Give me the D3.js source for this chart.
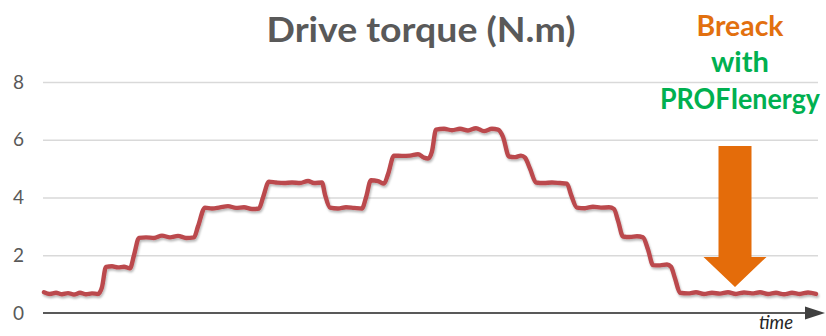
<!DOCTYPE html>
<html>
<head>
<meta charset="utf-8">
<script src="https://cdn.jsdelivr.net/npm/d3@7/dist/d3.min.js"></script>
<style>
  html, body { margin: 0; padding: 0; background: #fff; }
  svg { display: block; font-family: Lato, "Open Sans", sans-serif; }
</style>
</head>
<body>
<svg id="chart" width="826" height="336"></svg>
<script>
// Drive torque over time (N.m), sampled along the motion profile
const time = [
  0, 0.6, 1.2, 1.8, 2.4, 3.0, 3.6, 4.2, 4.8, 5.4,
  5.8, 6.2,
  6.8, 7.4, 8.0, 8.6,
  9.0, 9.5,
  10.2, 11.0, 11.8, 12.6, 13.4, 14.2, 15.0,
  15.4, 16.1,
  16.8, 17.6, 18.4, 19.2, 20.0, 20.8, 21.5,
  21.9, 22.5,
  23.2, 24.0, 24.8, 25.6, 26.4, 27.0, 27.8,
  28.1, 28.6,
  29.4, 30.2, 31.0, 31.8,
  32.2, 32.7,
  33.4, 34.0, 34.4, 35.0,
  35.8, 36.6, 37.4, 38.0, 38.4, 38.8, 39.2,
  40.0, 40.8, 41.6, 42.4, 43.2, 44.0, 44.8, 45.4,
  45.9, 46.5,
  47.1, 47.7, 48.1,
  48.6, 49.2,
  50.0, 50.8, 51.6, 52.3,
  52.7, 53.3,
  54.1, 54.9, 55.7, 56.5, 57.0,
  57.4, 57.9,
  58.6, 59.3, 59.9,
  60.4, 60.9,
  61.6, 62.3, 62.7,
  63.1, 63.6,
  64.4, 65.2, 66.0, 66.8, 67.6, 68.4, 69.2, 70.0, 70.8, 71.6, 72.4, 73.2, 74.0, 74.8, 75.6, 76.4, 77.2
];
const torque = [
  0.72, 0.66, 0.70, 0.65, 0.69, 0.64, 0.70, 0.65, 0.68, 0.66,
  0.90, 1.60,
  1.62, 1.58, 1.60, 1.55,
  2.00, 2.60,
  2.62, 2.60, 2.68, 2.62, 2.67, 2.60, 2.62,
  3.00, 3.65,
  3.62, 3.66, 3.70, 3.64, 3.66, 3.60, 3.62,
  4.00, 4.55,
  4.52, 4.50, 4.52, 4.50, 4.57, 4.50, 4.52,
  4.10, 3.65,
  3.62, 3.66, 3.64, 3.62,
  4.00, 4.60,
  4.57, 4.48, 4.80, 5.45,
  5.44, 5.45, 5.50, 5.38, 5.35, 5.60, 6.35,
  6.38, 6.33, 6.38, 6.32, 6.40, 6.30, 6.38, 6.35,
  6.10, 5.42,
  5.40, 5.45, 5.38,
  5.00, 4.52,
  4.50, 4.52, 4.50, 4.48,
  4.10, 3.65,
  3.63, 3.68, 3.65, 3.66, 3.60,
  3.20, 2.65,
  2.63, 2.66, 2.62,
  2.20, 1.66,
  1.65, 1.68, 1.60,
  1.20, 0.70,
  0.68, 0.72, 0.66, 0.70, 0.67, 0.72, 0.66, 0.71, 0.68, 0.72, 0.66, 0.70, 0.65, 0.70, 0.66, 0.71, 0.66
];
const yTicks = [0, 2, 4, 6, 8];
const titleText = "Drive torque (N.m)";
const noteLines = ["Breack", "with", "PROFIenergy"];
const axisLabel = "time";

const svg = d3.select("#chart");

const x = d3.scaleLinear().domain([0, 77.4]).range([44, 818]);
const y = d3.scaleLinear().domain([0, 8]).range([313, 82]);

// soft shadow under the torque trace
const defs = svg.append("defs");
const f = defs.append("filter").attr("id", "shadow")
  .attr("x", "-5%").attr("y", "-10%").attr("width", "110%").attr("height", "130%");
f.append("feDropShadow").attr("dx", 1).attr("dy", 2).attr("stdDeviation", 1.3)
  .attr("flood-color", "#000").attr("flood-opacity", 0.28);

// horizontal gridlines
svg.append("g")
  .attr("transform", `translate(${x.range()[0] - 1},0)`)
  .call(d3.axisLeft(y).tickValues(yTicks.filter(d => d > 0)).tickSize(-(x.range()[1] - x.range()[0] + 1)).tickFormat(""))
  .call(g => g.select(".domain").remove())
  .call(g => g.selectAll("line").attr("stroke", "#d9d9d9").attr("stroke-width", 1.5));

// y tick labels
svg.append("g")
  .attr("transform", `translate(${x.range()[0] - 1},0)`)
  .call(d3.axisLeft(y).tickValues(yTicks).tickSize(0).tickPadding(19).tickFormat(d3.format("d")))
  .call(g => g.select(".domain").remove())
  .call(g => g.selectAll("text")
    .attr("fill", "#595959")
    .style("font-size", "19px")
    .style("font-family", "Lato, 'Open Sans', sans-serif"));

// time axis with arrowhead
const x0 = x.range()[0] - 1, x1 = x.range()[1] + 7;
svg.append("line")
  .attr("x1", x0).attr("x2", x1 - 14)
  .attr("y1", y(0)).attr("y2", y(0))
  .attr("stroke", "#595959").attr("stroke-width", 2.2);
svg.append("path")
  .attr("d", `M${x1 - 20},${y(0) - 6.5} L${x1},${y(0)} L${x1 - 20},${y(0) + 6.5} Z`)
  .attr("fill", "#404040");
svg.append("text")
  .attr("x", x1 - 49).attr("y", 329)
  .attr("text-anchor", "middle")
  .attr("fill", "#262626")
  .style("font-style", "italic")
  .style("font-size", "18.5px")
  .style("font-family", "Lato, 'Open Sans', sans-serif")
  .text(axisLabel);

// torque trace
const line = d3.line()
  .x((d, i) => x(time[i]))
  .y(d => y(d))
  .curve(d3.curveMonotoneX);
svg.append("path")
  .datum(torque)
  .attr("d", line)
  .attr("fill", "none")
  .attr("stroke", "#bb4a4e")
  .attr("stroke-width", 4.4)
  .attr("stroke-linejoin", "round")
  .attr("stroke-linecap", "round")
  .attr("filter", "url(#shadow)");

// title
svg.append("text")
  .attr("x", 421).attr("y", 42)
  .attr("text-anchor", "middle")
  .attr("fill", "#595959")
  .style("font-weight", "bold")
  .style("font-size", "34px")
  .attr("textLength", 309)
  .attr("lengthAdjust", "spacingAndGlyphs")
  .text(titleText);

// annotation: braking phase with PROFIenergy
const noteX = 740;
const noteStyle = [
  { color: "#e2700f", base: 36, len: 87 },
  { color: "#00b050", base: 72, len: 58 },
  { color: "#00b050", base: 109, len: 160 }
];
svg.append("g").selectAll("text")
  .data(noteLines)
  .join("text")
  .attr("x", noteX)
  .attr("y", (d, i) => noteStyle[i].base)
  .attr("text-anchor", "middle")
  .attr("fill", (d, i) => noteStyle[i].color)
  .attr("textLength", (d, i) => noteStyle[i].len)
  .attr("lengthAdjust", "spacingAndGlyphs")
  .style("font-weight", "bold")
  .style("font-size", "28px")
  .text(d => d);

// downward arrow pointing at the reduced torque level
const ax = x(69.1);
const shaftHalf = 16.5, headHalf = 31.5;
const yTop = y(5.78), yHead = y(1.94), yTip = y(0.9);
svg.append("path")
  .attr("d", `M${ax - shaftHalf},${yTop} L${ax + shaftHalf},${yTop} L${ax + shaftHalf},${yHead}
              L${ax + headHalf},${yHead} L${ax},${yTip} L${ax - headHalf},${yHead}
              L${ax - shaftHalf},${yHead} Z`)
  .attr("fill", "#e46c0a");
</script>
</body>
</html>
